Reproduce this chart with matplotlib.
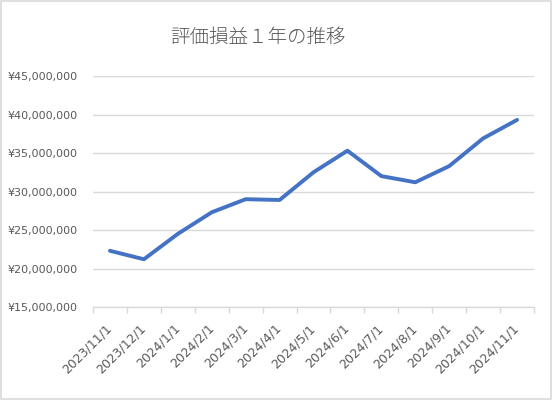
import matplotlib
matplotlib.use('Agg')
import matplotlib.pyplot as plt
from matplotlib.ticker import FuncFormatter, FixedLocator
from matplotlib.patches import Rectangle

plt.rcParams['font.family'] = ['DejaVu Sans', 'Noto Sans CJK JP']

# データ
dates = ['2023/11/1', '2023/12/1', '2024/1/1', '2024/2/1', '2024/3/1',
         '2024/4/1', '2024/5/1', '2024/6/1', '2024/7/1', '2024/8/1',
         '2024/9/1', '2024/10/1', '2024/11/1']
values = [22.3e6, 21.2e6, 24.5e6, 27.3e6, 29.0e6, 28.9e6, 32.5e6,
          35.3e6, 32.0e6, 31.2e6, 33.3e6, 36.9e6, 39.3e6]
yticks = [15e6, 20e6, 25e6, 30e6, 35e6, 40e6, 45e6]

grey_txt = '#595959'
grid_col = '#D9D9D9'

fig = plt.figure(figsize=(5.55, 4.03), dpi=100)
ax = fig.add_axes([0.1676, 0.2382, 0.7946, 0.5732])

x = list(range(len(dates)))
ax.plot(x, values, color='#4472C4', lw=2.8, solid_capstyle='round',
        solid_joinstyle='round', zorder=3)

ax.set_xlim(-0.5, len(dates) - 0.5)
ax.set_ylim(yticks[0], yticks[-1])
ax.set_yticks(yticks)
ax.yaxis.set_major_formatter(FuncFormatter(lambda v, p: '¥{:,}'.format(int(v))))
ax.grid(axis='y', color=grid_col, lw=1.0)
ax.set_axisbelow(True)

# x軸: ラベルは中央、目盛線は区切り位置
ax.set_xticks(x)
ax.set_xticklabels(dates, rotation=45, ha='right', va='center',
                   rotation_mode='anchor')
ax.xaxis.set_minor_locator(FixedLocator([i - 0.5 for i in range(len(dates) + 1)]))
ax.tick_params(axis='x', which='major', length=0, pad=14, labelsize=9,
               labelcolor=grey_txt)
ax.tick_params(axis='x', which='minor', length=4, color=grid_col, width=1)
ax.tick_params(axis='y', length=0, pad=11, labelsize=8, labelcolor=grey_txt)

for s in ['top', 'right', 'left']:
    ax.spines[s].set_visible(False)
ax.spines['bottom'].set_color(grid_col)
ax.spines['bottom'].set_linewidth(1.0)

fig.text(0.465, 0.908, '評価損益１年の推移', ha='center', va='center',
         fontsize=14, color=grey_txt, family=['Noto Sans CJK JP'],
         fontweight='light')

# 外枠
fig.patches.append(Rectangle((0.002, 0.01), 0.99, 0.987, transform=fig.transFigure,
                             fill=False, edgecolor=grid_col, lw=1.2))

fig.savefig('out.png', dpi=100)
